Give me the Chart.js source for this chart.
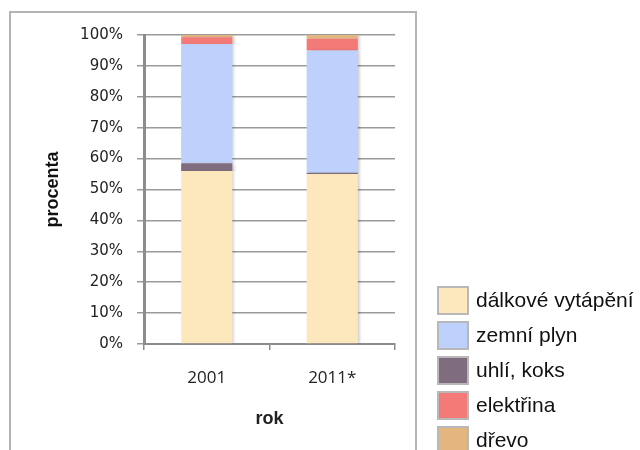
<!DOCTYPE html>
<html>
<head>
<meta charset="utf-8">
<script src="https://cdn.jsdelivr.net/npm/chart.js@4/dist/chart.umd.min.js"></script>
<style>
  html, body { margin: 0; padding: 0; background: #fff; }
  #wrap { position: relative; width: 640px; height: 450px; overflow: hidden; }
  #frame { position: absolute; left: 9px; top: 11px; width: 408px; height: 500px; border: 2px solid #b4b4b4; box-sizing: border-box; }
  canvas { position: absolute; left: 0; top: 0; }
</style>
</head>
<body>
<div id="wrap">
  <div id="frame"></div>
  <canvas id="c" width="640" height="450"></canvas>
</div>
<script>
const categories = ['2001', '2011*'];
// stacking order (bottom to top)
const seriesNames = ['dálkové vytápění', 'uhlí, koks', 'zemní plyn', 'elektřina', 'dřevo'];
const dalkoveVytapeni = [56.0, 55.0];
const uhliKoks = [2.5, 0.4];
const zemniPlyn = [38.6, 39.6];
const elektrina = [2.2, 3.8];
const drevo = [0.7, 1.2];
const legendOrder = ['dálkové vytápění', 'zemní plyn', 'uhlí, koks', 'elektřina', 'dřevo'];
const yTicks = [0, 10, 20, 30, 40, 50, 60, 70, 80, 90, 100];

const colors = ['#FDE8BE', '#7F6C7E', '#BDD1FC', '#F47A78', '#E3B680'];
const seriesValues = [dalkoveVytapeni, uhliKoks, zemniPlyn, elektrina, drevo];

const datasets = seriesNames.map((name, i) => ({
  label: name,
  data: seriesValues[i],
  backgroundColor: colors[i],
  borderWidth: 0,
  categoryPercentage: 0.8,
  barPercentage: 0.51
}));

const barShadow = {
  id: 'barShadow',
  beforeDatasetsDraw(chart) {
    const ctx = chart.ctx;
    ctx.save();
    ctx.shadowColor = 'rgba(0,0,0,0.22)';
    ctx.shadowBlur = 3;
    ctx.shadowOffsetX = 2;
    ctx.shadowOffsetY = 1;
  },
  afterDatasetsDraw(chart) {
    chart.ctx.restore();
  }
};

const customLegend = {
  id: 'customLegend',
  afterDraw(chart) {
    const ctx = chart.ctx;
    ctx.save();
    const x0 = 437, y0 = 286, step = 35, bw = 32, bh = 29;
    legendOrder.forEach((name, i) => {
      const ds = chart.data.datasets.find(d => d.label === name);
      const y = y0 + i * step;
      ctx.fillStyle = ds.backgroundColor;
      ctx.fillRect(x0, y, bw, bh);
      ctx.strokeStyle = '#b8b8b8';
      ctx.lineWidth = 2;
      ctx.strokeRect(x0 + 1, y + 1, bw - 2, bh - 2);
      ctx.fillStyle = '#111';
      ctx.font = '21px "Liberation Sans", Arial, sans-serif';
      ctx.textBaseline = 'middle';
      ctx.textAlign = 'left';
      ctx.fillText(ds.label, 476, y + bh / 2 + 1);
    });
    ctx.restore();
  }
};

new Chart(document.getElementById('c'), {
  type: 'bar',
  data: { labels: categories, datasets },
  options: {
    responsive: false,
    animation: false,
    layout: { padding: { left: 0, top: 35, right: 245, bottom: 0 } },
    plugins: { legend: { display: false }, tooltip: { enabled: false } },
    scales: {
      x: {
        stacked: true,
        afterFit: (s) => { s.height = 106; },
        grid: { drawOnChartArea: false, drawTicks: true, tickLength: 6, color: '#8c8c8c', lineWidth: 1.5 },
        border: { display: true, color: '#8c8c8c', width: 2 },
        ticks: { color: '#222', padding: 18, font: { family: '"Open Sans", sans-serif', size: 17 } },
        title: { display: true, text: 'rok', color: '#222', padding: { top: 0, bottom: 20 }, font: { family: '"Liberation Sans", Arial, sans-serif', size: 18, weight: 'bold' } }
      },
      y: {
        stacked: true,
        min: 0,
        max: 100,
        afterFit: (s) => { s.width = 144; },
        afterBuildTicks: (s) => { s.ticks = yTicks.map(v => ({ value: v })); },
        grid: { color: '#9a9a9a', lineWidth: 1.5, tickLength: 7, drawTicks: true },
        border: { display: true, color: '#8c8c8c', width: 3 },
        ticks: { color: '#222', padding: 14, callback: (v) => v + '%', font: { family: '"DejaVu Sans", Verdana, sans-serif', size: 15 } },
        title: { display: true, text: 'procenta', color: '#111', padding: { top: 42, bottom: 0 }, font: { family: '"Liberation Sans", Arial, sans-serif', size: 18, weight: 'bold' } }
      }
    }
  },
  plugins: [barShadow, customLegend]
});
</script>
</body>
</html>
